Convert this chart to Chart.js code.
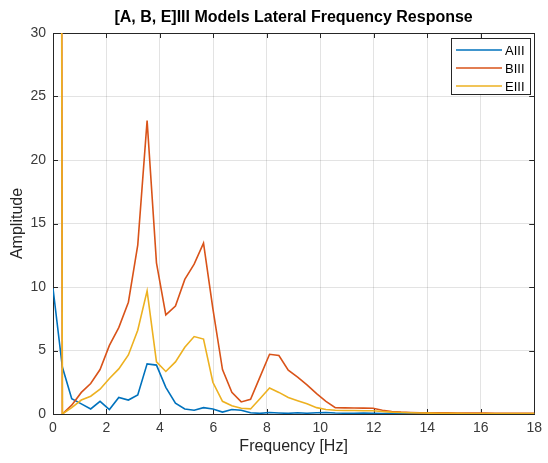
<!DOCTYPE html>
<html>
<head>
<meta charset="utf-8">
<script src="https://cdn.jsdelivr.net/npm/chart.js"></script>
<style>
  html, body { margin: 0; padding: 0; background: #fff; }
</style>
</head>
<body>
<canvas id="chart" width="548" height="463"></canvas>
<script>
const chartTitle = '[A, B, E]III Models Lateral Frequency Response';
const xTitle = 'Frequency [Hz]';
const yTitle = 'Amplitude';

// frequency bins (Hz)
const freqHz = [
  0, 0.35, 0.70, 1.06, 1.41, 1.76, 2.11, 2.46, 2.82, 3.17,
  3.52, 3.87, 4.22, 4.58, 4.93, 5.28, 5.63, 5.98, 6.34, 6.69,
  7.04, 7.39, 7.74, 8.10, 8.45, 8.80, 9.15, 9.50, 9.86, 10.21,
  10.56, 10.91, 11.26, 11.62, 11.97, 12.32, 12.67, 13.02, 13.38, 13.73,
  14.08, 14.43, 14.78, 15.14, 15.49, 15.84, 16.19, 16.54, 16.90, 17.25,
  17.60, 17.95, 18.30
];

const seriesA = [
  9.9, 3.7, 1.2, 0.8, 0.4, 1.0, 0.35, 1.3, 1.1, 1.5,
  3.95, 3.85, 2.1, 0.85, 0.4, 0.3, 0.5, 0.4, 0.15, 0.35,
  0.3, 0.1, 0.05, 0.12, 0.08, 0.05, 0.1, 0.06, 0.1, 0.12,
  0.08, 0.06, 0.05, 0.07, 0.05, 0.04, 0.05, 0.04, 0.03, 0.03,
  0.03, 0.02, 0.02, 0.02, 0.02, 0.02, 0.01, 0.02, 0.01, 0.01,
  0.01, 0.01, 0.01
];

const seriesB = [
  480, 0, 0.7, 1.7, 2.4, 3.5, 5.4, 6.8, 8.8, 13.3,
  23.1, 11.9, 7.8, 8.5, 10.6, 11.8, 13.45, 8.3, 3.5, 1.7,
  0.95, 1.15, 2.9, 4.7, 4.6, 3.45, 2.9, 2.3, 1.6, 1.0,
  0.5, 0.48, 0.47, 0.46, 0.45, 0.3, 0.2, 0.15, 0.12, 0.1,
  0.1, 0.09, 0.09, 0.08, 0.08, 0.07, 0.07, 0.06, 0.06, 0.06,
  0.05, 0.05, 0.05
];

const seriesE = [
  430, 0, 0.5, 1.1, 1.4, 1.95, 2.8, 3.55, 4.65, 6.6,
  9.7, 4.1, 3.35, 4.1, 5.25, 6.1, 5.9, 2.5, 1.0, 0.65,
  0.45, 0.4, 1.2, 2.05, 1.7, 1.3, 1.05, 0.8, 0.5, 0.35,
  0.3, 0.28, 0.27, 0.26, 0.25, 0.2, 0.15, 0.12, 0.1, 0.08,
  0.07, 0.06, 0.05, 0.05, 0.04, 0.04, 0.04, 0.04, 0.04, 0.04,
  0.04, 0.04, 0.04
];

const seriesNames = ['AIII', 'BIII', 'EIII'];
const seriesColors = ['#0072BD', '#D95319', '#EDB120'];

const xTicks = [0, 2, 4, 6, 8, 10, 12, 14, 16, 18];
const yTicks = [0, 5, 10, 15, 20, 25, 30];

const fontFamily = '"Liberation Sans", Arial, Helvetica, sans-serif';
const axisColor = '#262626';

const toPoints = (vals) => vals.map((v, i) => ({ x: freqHz[i], y: v }));

// box, inward ticks and titles (matlab look)
const framePlugin = {
  id: 'frame',
  beforeDatasetsDraw(chart) {
    const ctx = chart.ctx;
    const area = chart.chartArea;
    const xs = chart.scales.x;
    const ys = chart.scales.y;
    const tl = 5;
    ctx.save();
    ctx.strokeStyle = axisColor;
    ctx.lineWidth = 1;
    ctx.beginPath();
    xTicks.forEach(t => {
      const px = Math.round(xs.getPixelForValue(t)) + 0.5;
      ctx.moveTo(px, area.bottom); ctx.lineTo(px, area.bottom - tl);
      ctx.moveTo(px, area.top); ctx.lineTo(px, area.top + tl);
    });
    yTicks.forEach(t => {
      const py = Math.round(ys.getPixelForValue(t)) + 0.5;
      ctx.moveTo(area.left, py); ctx.lineTo(area.left + tl, py);
      ctx.moveTo(area.right, py); ctx.lineTo(area.right - tl, py);
    });
    ctx.stroke();
    ctx.strokeRect(Math.round(area.left) + 0.5, Math.round(area.top) + 0.5,
      Math.round(area.right - area.left), Math.round(area.bottom - area.top));
    ctx.restore();
  },
  afterDraw(chart) {
    const ctx = chart.ctx;
    const area = chart.chartArea;
    const midX = (area.left + area.right) / 2;
    ctx.save();
    ctx.fillStyle = '#000';
    ctx.textAlign = 'center';
    ctx.textBaseline = 'middle';
    ctx.font = 'bold 16px ' + fontFamily;
    ctx.fillText(chartTitle, midX, 18);
    ctx.fillStyle = axisColor;
    ctx.font = '16px ' + fontFamily;
    ctx.fillText(xTitle, midX, 447);
    ctx.translate(18, (area.top + area.bottom) / 2);
    ctx.rotate(-Math.PI / 2);
    ctx.fillText(yTitle, 0, 0);
    ctx.restore();

    // legend box
    const lx = 451, ly = 38, lw = 79, lh = 56;
    ctx.save();
    ctx.fillStyle = '#fff';
    ctx.fillRect(lx, ly, lw, lh);
    ctx.strokeStyle = axisColor;
    ctx.lineWidth = 1;
    ctx.strokeRect(lx + 0.5, ly + 0.5, lw, lh);
    ctx.font = '13px ' + fontFamily;
    ctx.textAlign = 'left';
    ctx.textBaseline = 'middle';
    chart.data.datasets.forEach((ds, i) => {
      const y = ly + 12 + i * 18;
      ctx.strokeStyle = ds.borderColor;
      ctx.lineWidth = 1.5;
      ctx.beginPath();
      ctx.moveTo(lx + 5, y);
      ctx.lineTo(lx + 51, y);
      ctx.stroke();
      ctx.fillStyle = '#000';
      ctx.fillText(ds.label, lx + 54, y + 1);
    });
    ctx.restore();
  }
};

new Chart(document.getElementById('chart'), {
  type: 'line',
  data: {
    datasets: [
      { label: seriesNames[0], data: toPoints(seriesA), borderColor: seriesColors[0], order: 3 },
      { label: seriesNames[1], data: toPoints(seriesB), borderColor: seriesColors[1], order: 2 },
      { label: seriesNames[2], data: toPoints(seriesE), borderColor: seriesColors[2], order: 1 }
    ]
  },
  options: {
    responsive: false,
    animation: false,
    devicePixelRatio: 1,
    layout: { padding: { top: 33, right: 11, left: 0, bottom: 0 } },
    elements: {
      line: { borderWidth: 1.6, tension: 0, fill: false },
      point: { radius: 0 }
    },
    plugins: {
      legend: { display: false },
      title: { display: false },
      tooltip: { enabled: false }
    },
    scales: {
      x: {
        type: 'linear',
        min: 0,
        max: 18,
        afterFit: (s) => { s.height = 49; },
        afterBuildTicks: (s) => { s.ticks = xTicks.map(v => ({ value: v })); },
        ticks: { color: '#3a3a3a', font: { family: fontFamily, size: 14 }, padding: 6, maxRotation: 0 },
        grid: { color: 'rgba(38,38,38,0.13)', drawTicks: false },
        border: { display: false }
      },
      y: {
        min: 0,
        max: 30,
        afterFit: (s) => { s.width = 53; },
        afterBuildTicks: (s) => { s.ticks = yTicks.map(v => ({ value: v })); },
        ticks: { color: '#3a3a3a', font: { family: fontFamily, size: 14 }, padding: 7 },
        grid: { color: 'rgba(38,38,38,0.13)', drawTicks: false },
        border: { display: false }
      }
    }
  },
  plugins: [framePlugin]
});
</script>
</body>
</html>
